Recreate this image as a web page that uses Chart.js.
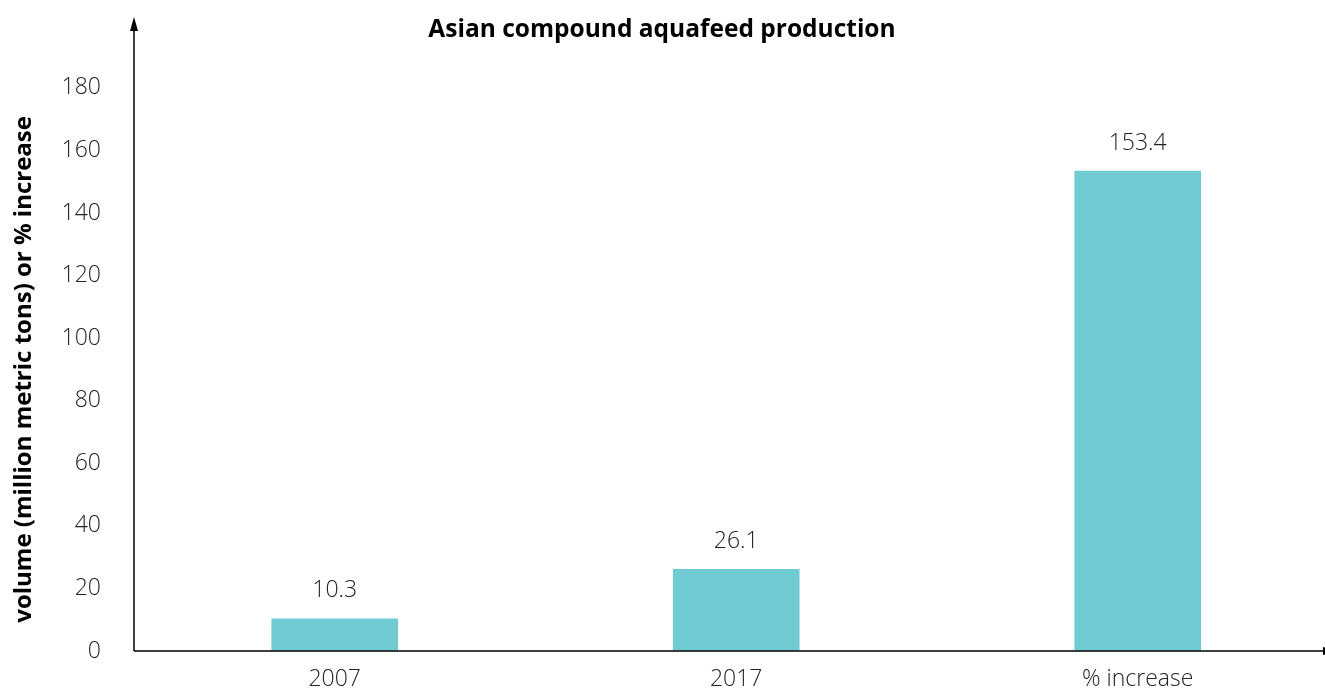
<!DOCTYPE html>
<html>
<head>
<meta charset="utf-8">
<script src="https://cdn.jsdelivr.net/npm/chart.js@4"></script>
<style>
    html, body { margin: 0; padding: 0; background: #ffffff; overflow: hidden; }
    canvas { display: block; }
</style>
</head>
<body>
<canvas id="feedChart" width="1325" height="688"></canvas>
<script>
// Asian compound aquafeed production chart
const categories = ['2007', '2017', '% increase'];
const volumes = [10.3, 26.1, 153.4];
const yTicks = [0, 20, 40, 60, 80, 100, 120, 140, 160, 180];

const barColor = 'rgb(112, 203, 211)';
const textColor = '#222222';
const lightFont = "'Open Sans', 'Noto Sans', sans-serif";

// Value labels above each bar
const valueLabels = {
    id: 'valueLabels',
    afterDatasetsDraw(chart) {
        const ctx = chart.ctx;
        const meta = chart.getDatasetMeta(0);
        ctx.save();
        ctx.font = '300 23px ' + lightFont;
        ctx.fillStyle = textColor;
        ctx.textAlign = 'center';
        ctx.textBaseline = 'middle';
        meta.data.forEach((bar, i) => {
            ctx.fillText(volumes[i].toFixed(1), bar.x, bar.y - 28);
        });
        ctx.restore();
    }
};

// Axis lines with arrow heads
const arrowAxes = {
    id: 'arrowAxes',
    afterDraw(chart) {
        const ctx = chart.ctx;
        const area = chart.chartArea;
        const x0 = area.left;
        const y0 = area.bottom;
        const topY = 17;
        const rightX = 1324;
        ctx.save();
        ctx.strokeStyle = '#000000';
        ctx.fillStyle = '#000000';
        ctx.lineWidth = 1.5;
        ctx.beginPath();
        ctx.moveTo(x0, y0);
        ctx.lineTo(x0, topY + 8);
        ctx.moveTo(x0, y0);
        ctx.lineTo(rightX, y0);
        ctx.stroke();
        // up arrow
        ctx.beginPath();
        ctx.moveTo(x0, topY);
        ctx.lineTo(x0 - 4, topY + 14);
        ctx.lineTo(x0 + 4, topY + 14);
        ctx.closePath();
        ctx.fill();
        // right arrow, clipped at the edge
        ctx.beginPath();
        ctx.moveTo(rightX + 13, y0);
        ctx.lineTo(rightX - 1, y0 - 4);
        ctx.lineTo(rightX - 1, y0 + 4);
        ctx.closePath();
        ctx.fill();
        ctx.restore();
    }
};

const ctx = document.getElementById('feedChart').getContext('2d');
const feedChart = new Chart(ctx, {
    type: 'bar',
    data: {
        datasets: [{
            data: volumes.map((v, i) => ({ x: i, y: v })),
            backgroundColor: barColor,
            borderWidth: 0,
            barThickness: 126
        }]
    },
    options: {
        responsive: false,
        animation: false,
        layout: { padding: { left: 0, right: 1, top: 0, bottom: 0 } },
        plugins: {
            legend: { display: false },
            tooltip: { enabled: false },
            title: {
                display: true,
                text: 'Asian compound aquafeed production',
                color: '#000000',
                font: { family: "'Open Sans', 'Noto Sans', sans-serif", size: 24.5, weight: 'bold' },
                padding: { top: 15, bottom: 43.4 }
            }
        },
        scales: {
            x: {
                type: 'linear',
                offset: false,
                min: -0.5,
                max: 2.464,
                grid: { display: false, drawTicks: false },
                border: { display: false },
                afterBuildTicks(scale) {
                    scale.ticks = categories.map((c, i) => ({ value: i }));
                },
                afterFit(scale) {
                    scale.height = 37;
                },
                ticks: {
                    padding: 15,
                    color: textColor,
                    font: { family: lightFont, size: 23, weight: '300' },
                    callback: (v) => categories[v]
                }
            },
            y: {
                min: 0,
                max: 180,
                // invisible tick marks keep the labels clear of the axis line
                grid: {
                    display: true,
                    drawOnChartArea: false,
                    drawTicks: true,
                    tickLength: 33,
                    tickColor: 'rgba(0,0,0,0)',
                    color: 'rgba(0,0,0,0)'
                },
                border: { display: false },
                afterBuildTicks(scale) {
                    scale.ticks = yTicks.map(v => ({ value: v }));
                },
                afterFit(scale) {
                    scale.width = 134;
                },
                ticks: {
                    padding: 0,
                    color: textColor,
                    font: { family: lightFont, size: 23, weight: '300' }
                },
                title: {
                    display: true,
                    text: 'volume (million metric tons) or % increase',
                    color: '#000000',
                    font: { family: "'Open Sans', 'Noto Sans', sans-serif", size: 24, weight: 'bold' },
                    padding: { top: 10, bottom: 0 }
                }
            }
        }
    },
    plugins: [valueLabels, arrowAxes]
});
</script>
</body>
</html>
